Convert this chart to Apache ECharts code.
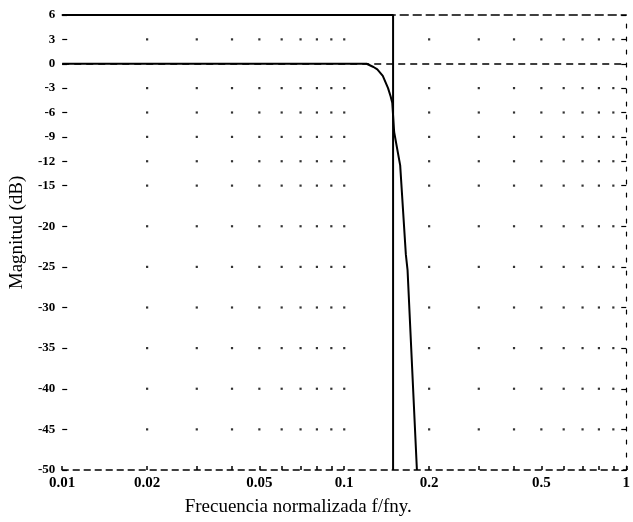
<!DOCTYPE html>
<html>
<head>
<meta charset="utf-8">
<script src="https://cdn.jsdelivr.net/npm/echarts@6/dist/echarts.min.js"></script>
<style>
html,body{margin:0;padding:0;background:#fff;}
#chart{width:633px;height:522px;}
</style>
</head>
<body>
<div id="chart"></div>
<script>
// ---- data ----
const respFreq = [0.01, 0.03, 0.06, 0.1, 0.12, 0.127, 0.131, 0.137, 0.143, 0.146, 0.148, 0.1503, 0.1579, 0.1654, 0.1677, 0.181];
const respMag  = [0, 0, 0, 0, 0, -0.4, -0.7, -1.5, -3.0, -4.0, -4.8, -8.4, -12.5, -23.5, -25.4, -50];
const maskFreq = [0.01, 0.149, 0.149];
const maskMag  = [6, 6, -50];
const xLabelValues = [0.01, 0.02, 0.05, 0.1, 0.2, 0.5, 1];
const xLabelTexts  = ['0.01', '0.02', '0.05', '0.1', '0.2', '0.5', '1'];
const xGridValues  = [0.02, 0.03, 0.04, 0.05, 0.06, 0.07, 0.08, 0.09, 0.1, 0.2, 0.3, 0.4, 0.5, 0.6, 0.7, 0.8, 0.9];
const xTickValues  = [0.01].concat(xGridValues, [1]);
const yTickValues  = [6, 3, 0, -3, -6, -9, -12, -15, -20, -25, -30, -35, -40, -45, -50];
const yGridValues  = [3, -3, -6, -9, -12, -15, -20, -25, -30, -35, -40, -45];
const xMin = 0.01, xMax = 1, yMin = -50, yMax = 6;

const lg = Math.log10;
const respData = respFreq.map((f, i) => [lg(f), respMag[i]]);
const maskData = maskFreq.map((f, i) => [lg(f), maskMag[i]]);
const dots = [];
xGridValues.forEach(f => yGridValues.forEach(m => dots.push([lg(f), m])));

const serif = 'Liberation Serif';
const chart = echarts.init(document.getElementById('chart'));
chart.setOption({
  backgroundColor: '#fff',
  animation: false,
  grid: {left: 60, right: 6, top: 15, bottom: 52, containLabel: false},
  xAxis: [{
    type: 'value', position: 'bottom', min: lg(xMin), max: lg(xMax),
    name: 'Frecuencia normalizada f/fny.', nameLocation: 'middle', nameGap: 28,
    nameTextStyle: {fontFamily: serif, fontSize: 19, color: '#000', padding: [0, 92, 0, 0]},
    axisLine: {show: true, onZero: false, lineStyle: {color: '#000', width: 1.5, type: [6, 5]}},
    axisTick: {show: true, inside: true, length: 4, customValues: xTickValues.map(lg), lineStyle: {color: '#000', width: 1.5}},
    axisLabel: {show: true, customValues: xLabelValues.map(lg), margin: 6,
      fontFamily: serif, fontSize: 15, fontWeight: 'bold', color: '#000',
      formatter: v => { let best = 0; xLabelValues.forEach((x, i) => { if (Math.abs(lg(x) - v) < Math.abs(lg(xLabelValues[best]) - v)) best = i; }); return xLabelTexts[best]; }},
    splitLine: {show: false}
  }, {
    type: 'value', position: 'top', min: lg(xMin), max: lg(xMax),
    axisLine: {show: true, onZero: false, lineStyle: {color: '#000', width: 1.5, type: [8, 5]}},
    axisTick: {show: false}, axisLabel: {show: false}, splitLine: {show: false}
  }],
  yAxis: [{
    type: 'value', position: 'left', min: yMin, max: yMax,
    name: 'Magnitud (dB)', nameLocation: 'middle', nameGap: 34,
    nameTextStyle: {fontFamily: serif, fontSize: 19, color: '#000', padding: [0, 0, 0, 20]},
    axisLine: {show: false, onZero: false},
    axisTick: {show: true, inside: true, length: 5, customValues: yTickValues, lineStyle: {color: '#000', width: 1.2}},
    axisLabel: {show: true, customValues: yTickValues, margin: 7,
      fontFamily: serif, fontSize: 13, fontWeight: 'bold', color: '#000',
      formatter: v => String(Math.round(v))},
    splitLine: {show: false}
  }, {
    type: 'value', position: 'right', min: yMin, max: yMax,
    axisLine: {show: true, onZero: false, lineStyle: {color: '#000', width: 1.2, type: [4, 9]}},
    axisTick: {show: true, inside: true, length: 5, customValues: yTickValues, lineStyle: {color: '#000', width: 1.2}},
    axisLabel: {show: false}, splitLine: {show: false}
  }],
  series: [{
    type: 'scatter', xAxisIndex: 0, yAxisIndex: 0, data: dots,
    symbol: 'rect', symbolSize: 2.2, itemStyle: {color: '#000'}, silent: true,
    markLine: {symbol: 'none', silent: true, label: {show: false},
      lineStyle: {color: '#000', width: 1.5, type: [7, 5]},
      data: [{yAxis: 0}]}
  }, {
    type: 'line', xAxisIndex: 0, yAxisIndex: 0, data: maskData,
    showSymbol: false, lineStyle: {color: '#000', width: 2}
  }, {
    type: 'line', xAxisIndex: 0, yAxisIndex: 0, data: respData,
    showSymbol: false, lineStyle: {color: '#000', width: 2}
  }]
});
</script>
</body>
</html>
